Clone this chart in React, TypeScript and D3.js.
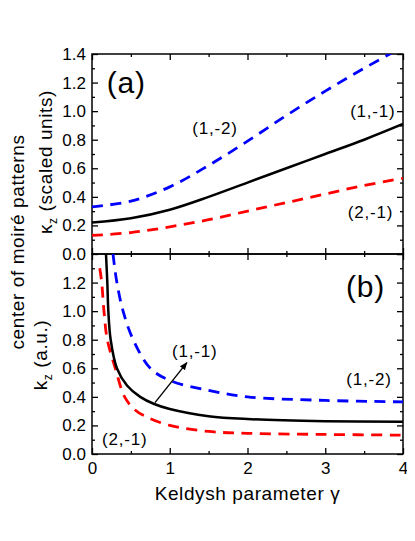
import React, { useEffect, useRef } from 'react';
import * as d3 from 'd3';

// panel (a): kappa_z in scaled units
const gammaA = [0, 0.5, 1, 1.5, 2, 2.5, 3, 3.5, 4];
const kappa11 = [0.22, 0.25, 0.31, 0.40, 0.50, 0.60, 0.70, 0.80, 0.91];
const kappa12 = [0.33, 0.37, 0.47, 0.62, 0.79, 0.97, 1.14, 1.30, 1.45];
const kappa21 = [0.13, 0.15, 0.19, 0.24, 0.30, 0.36, 0.42, 0.48, 0.53];

// panel (b): k_z in a.u.
const gamma11 = [0.18, 0.197, 0.21, 0.24, 0.32, 0.45, 0.62, 0.8, 1.0, 1.5, 2, 3, 4];
const kz11 = [1.40, 1.2, 1.0, 0.8, 0.6, 0.48, 0.40, 0.35, 0.315, 0.265, 0.245, 0.23, 0.225];
const gamma12 = [0.27, 0.32, 0.4, 0.53, 0.75, 1.0, 1.5, 2, 3, 4];
const kz12 = [1.40, 1.2, 1.0, 0.8, 0.6, 0.515, 0.445, 0.40, 0.375, 0.365];
const gamma21 = [0.10, 0.125, 0.154, 0.197, 0.30, 0.42, 0.55, 0.7, 1.0, 1.5, 2, 3, 4];
const kz21 = [1.30, 1.2, 1.0, 0.8, 0.6, 0.4, 0.31, 0.26, 0.20, 0.158, 0.145, 0.137, 0.132];

const xMajor = [0, 1, 2, 3, 4];
const xMinor = [0.5, 1.5, 2.5, 3.5];
const yMajorA = [0, 0.2, 0.4, 0.6, 0.8, 1.0, 1.2, 1.4];
const yMajorB = [0, 0.2, 0.4, 0.6, 0.8, 1.0, 1.2];
const yMinor = [0.1, 0.3, 0.5, 0.7, 0.9, 1.1, 1.3];

const FONT = "'Liberation Sans', Arial, sans-serif";

export default function App() {
  const ref = useRef<SVGSVGElement>(null);

  useEffect(() => {
    const svg = d3.select(ref.current);
    svg.selectAll('*').remove();

    const left = 92, right = 403;
    const x = d3.scaleLinear().domain([0, 4]).range([left, right]);
    const yA = d3.scaleLinear().domain([0, 1.4]).range([254, 54]);
    const yB = d3.scaleLinear().domain([0, 1.4]).range([454, 254]);

    const line = (xs: number[], ys: number[], y: d3.ScaleLinear<number, number>) =>
      d3.line<number>()
        .x((d) => x(d))
        .y((_, i) => y(ys[i]))
        .curve(d3.curveCatmullRom)(xs);

    const panel = (y: d3.ScaleLinear<number, number>, majors: number[], id: string, showX: boolean) => {
      const [bottom, top] = y.range();
      svg.append('clipPath').attr('id', id)
        .append('rect').attr('x', left).attr('y', top).attr('width', right - left).attr('height', bottom - top);

      svg.append('g').attr('transform', `translate(${left},0)`)
        .call(d3.axisLeft(y).tickValues(majors).tickSize(-6).tickPadding(6).tickFormat(d3.format('.1f')) as any);
      svg.append('g').attr('transform', `translate(${left},0)`)
        .call(d3.axisLeft(y).tickValues(yMinor).tickSize(-3).tickFormat(() => '') as any);
      svg.append('g').attr('transform', `translate(${right},0)`)
        .call(d3.axisRight(y).tickValues(yMajorA).tickSize(-6).tickFormat(() => '') as any);
      svg.append('g').attr('transform', `translate(${right},0)`)
        .call(d3.axisRight(y).tickValues(yMinor).tickSize(-3).tickFormat(() => '') as any);

      svg.append('g').attr('transform', `translate(0,${bottom})`)
        .call(d3.axisBottom(x).tickValues(xMajor).tickSize(-6).tickPadding(8)
          .tickFormat(showX ? d3.format('d') : () => '') as any);
      svg.append('g').attr('transform', `translate(0,${bottom})`)
        .call(d3.axisBottom(x).tickValues(xMinor).tickSize(-3).tickFormat(() => '') as any);
      svg.append('g').attr('transform', `translate(0,${top})`)
        .call(d3.axisTop(x).tickValues(xMajor).tickSize(-6).tickFormat(() => '') as any);
      svg.append('g').attr('transform', `translate(0,${top})`)
        .call(d3.axisTop(x).tickValues(xMinor).tickSize(-3).tickFormat(() => '') as any);

      svg.append('rect')
        .attr('x', left).attr('y', top).attr('width', right - left).attr('height', bottom - top)
        .attr('fill', 'none').attr('stroke', '#000').attr('stroke-width', 1.5);
    };

    panel(yA, yMajorA, 'clipA', false);
    panel(yB, yMajorB, 'clipB', true);

    svg.selectAll('.domain').remove();
    svg.selectAll('.tick line').attr('stroke', '#000').attr('stroke-width', 1.3);
    svg.selectAll('.tick text').attr('font-size', 17).attr('font-family', FONT).attr('fill', '#000');

    const curves: [number[], number[], d3.ScaleLinear<number, number>, string, string, boolean][] = [
      [gammaA, kappa12, yA, 'clipA', '#0000ff', true],
      [gammaA, kappa21, yA, 'clipA', '#ff0000', true],
      [gammaA, kappa11, yA, 'clipA', '#000000', false],
      [gamma12, kz12, yB, 'clipB', '#0000ff', true],
      [gamma21, kz21, yB, 'clipB', '#ff0000', true],
      [gamma11, kz11, yB, 'clipB', '#000000', false],
    ];
    curves.forEach(([xs, ys, y, clip, color, dashed]) => {
      svg.append('path')
        .attr('d', line(xs, ys, y))
        .attr('clip-path', `url(#${clip})`)
        .attr('fill', 'none')
        .attr('stroke', color)
        .attr('stroke-width', dashed ? 2.8 : 2.5)
        .attr('stroke-dasharray', dashed ? '11,7.5' : null);
    });

    // labels
    const label = (t: string, px: number, py: number, size: number, anchor = 'start') =>
      svg.append('text').attr('x', px).attr('y', py).attr('font-size', size)
        .attr('font-family', FONT).attr('text-anchor', anchor).attr('letter-spacing', 0.8).text(t);

    label('(a)', x(0.19), yA(1.13), 30);
    label('(1,-2)', x(1.29), yA(0.84), 17);
    label('(1,-1)', x(3.32), yA(0.96), 17);
    label('(2,-1)', x(3.29), yA(0.25), 17);
    label('(b)', x(3.77), yB(1.10), 30, 'end');
    label('(1,-1)', x(1.03), yB(0.68), 17);
    label('(1,-2)', x(3.27), yB(0.48), 17);
    label('(2,-1)', x(0.13), yB(0.06), 17);

    // arrow
    svg.append('defs').append('marker')
      .attr('id', 'head').attr('viewBox', '0 0 10 10').attr('refX', 9).attr('refY', 5)
      .attr('markerWidth', 8).attr('markerHeight', 8).attr('markerUnits', 'userSpaceOnUse')
      .attr('orient', 'auto')
      .append('path').attr('d', 'M0,1 L10,5 L0,9 Z').attr('fill', '#000');
    svg.append('line')
      .attr('x1', x(0.81)).attr('y1', yB(0.36))
      .attr('x2', x(1.22)).attr('y2', yB(0.64))
      .attr('stroke', '#000').attr('stroke-width', 1.4)
      .attr('marker-end', 'url(#head)');

    // axis titles
    svg.append('text').attr('x', x(2)).attr('y', 500).attr('text-anchor', 'middle')
      .attr('font-size', 19).attr('font-family', FONT).attr('letter-spacing', 0.6)
      .text('Keldysh parameter γ');

    const vtitle = (cx: number, cy: number, build: (t: any) => void) => {
      const t = svg.append('text').attr('transform', `translate(${cx},${cy}) rotate(-90)`)
        .attr('text-anchor', 'middle').attr('font-size', 19).attr('font-family', FONT)
        .attr('letter-spacing', 0.6);
      build(t);
    };
    vtitle(24, 242, (t) => t.text('center of moiré patterns'));
    vtitle(52, 162, (t) => {
      t.append('tspan').text('κ');
      t.append('tspan').attr('font-size', 12).attr('dy', 5).text('z');
      t.append('tspan').attr('dy', -5).text(' (scaled units)');
    });
    vtitle(47, 355, (t) => {
      t.append('tspan').text('k');
      t.append('tspan').attr('font-size', 12).attr('dy', 5).text('z');
      t.append('tspan').attr('dy', -5).text(' (a.u.)');
    });
  }, []);

  return (
    <div>
      <svg ref={ref} width={415} height={541} style={{ display: 'block', margin: -8 }} />
    </div>
  );
}
